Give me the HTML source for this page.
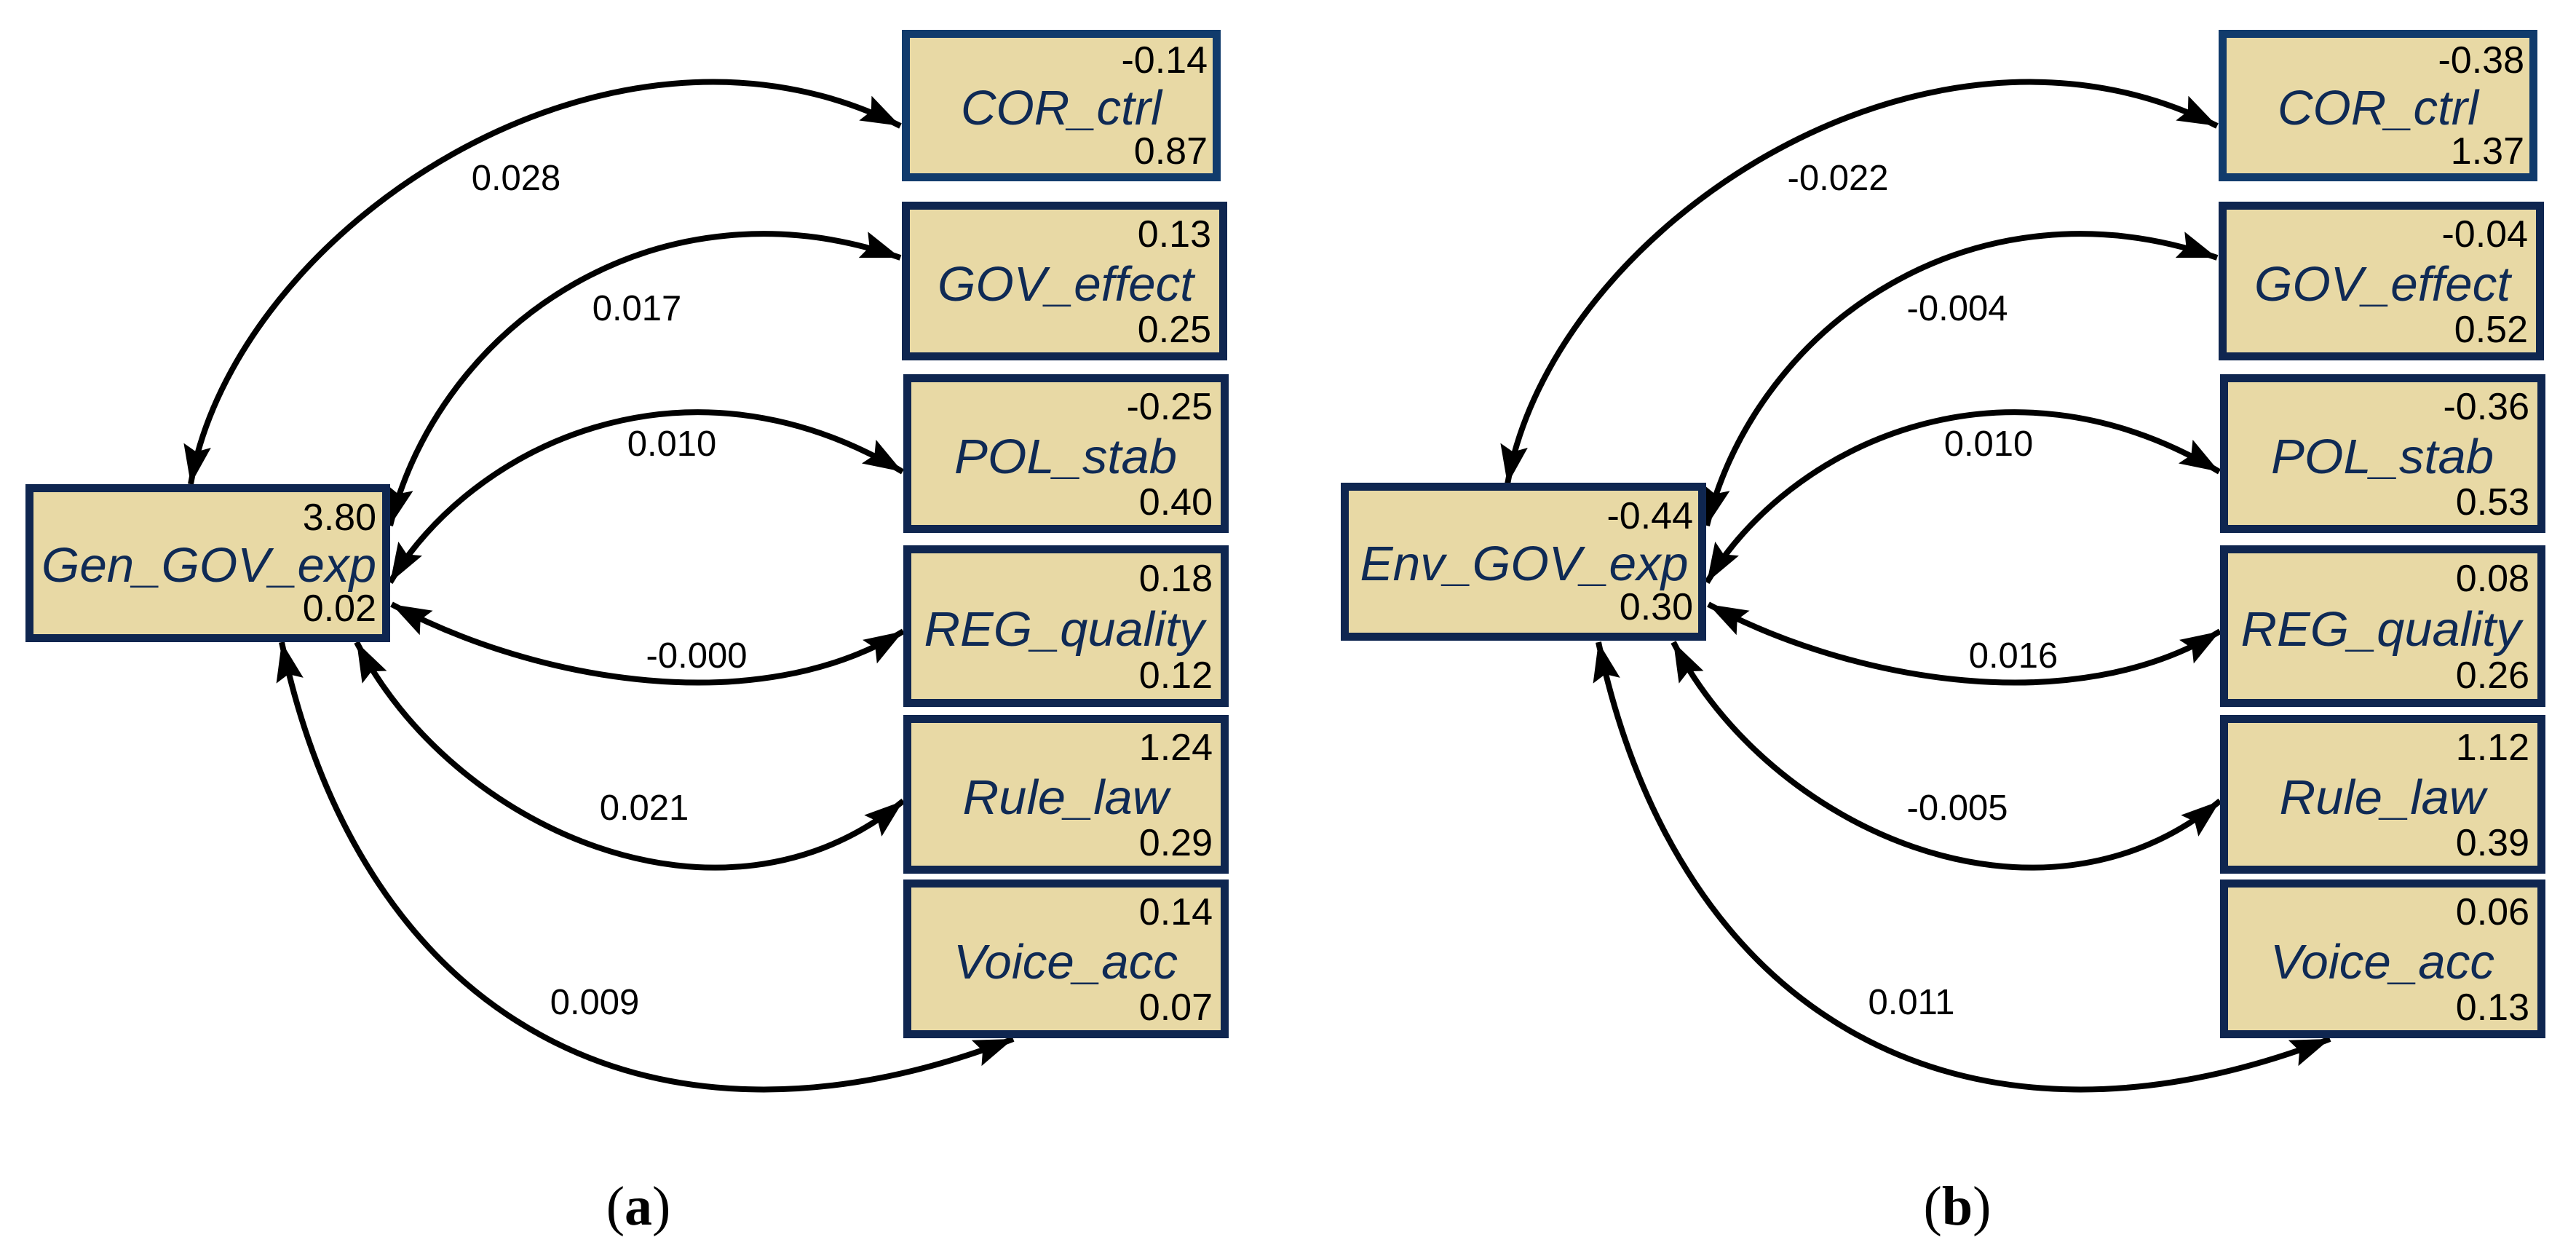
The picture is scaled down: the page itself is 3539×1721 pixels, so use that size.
<!DOCTYPE html>
<html><head><meta charset="utf-8"><style>
html,body{margin:0;padding:0;background:#fff;}
svg{display:block;}
.n{font-family:"Liberation Sans",sans-serif;font-size:52px;fill:#000;text-anchor:end;}
.nm{font-family:"Liberation Sans",sans-serif;font-size:67px;font-style:italic;fill:#0f2a55;text-anchor:middle;}
.lb{font-family:"Liberation Sans",sans-serif;font-size:49px;fill:#000;text-anchor:middle;}
.c{fill:none;stroke:#000;stroke-width:8;marker-start:url(#ah);marker-end:url(#ah);}
.bx{fill:#e8d9a5;stroke:#0f2650;stroke-width:11;}
.cap{font-family:"Liberation Serif",serif;font-size:76px;fill:#000;text-anchor:middle;}
</style></head><body>
<svg width="3539" height="1721" viewBox="0 0 3539 1721" xmlns="http://www.w3.org/2000/svg">
<defs>
<marker id="ah" markerUnits="userSpaceOnUse" markerWidth="56" markerHeight="40" refX="54" refY="19" orient="auto-start-reverse">
<path d="M0,0 L54,19 L0,38 L9,19 z" fill="#000"/>
</marker>
</defs>

<g id="pa">
<path class="c" d="M262,665 C322,315 837,-30 1237,173"/>
<path class="c" d="M536,722 C606,442 907,239 1237,354"/>
<path class="c" d="M536,800 C646,615 940,468 1240,648"/>
<path class="c" d="M538,830 C738,937 1041,989 1241,867"/>
<path class="c" d="M490,882 C620,1137 991,1305 1241,1100"/>
<path class="c" d="M387,882 C497,1402 892,1620 1392,1427"/>

<rect class="bx" x="40.5" y="670.5" width="490" height="206"/>
<text class="n" x="517" y="728">3.80</text>
<text class="nm" x="287" y="799" textLength="460" lengthAdjust="spacingAndGlyphs">Gen_GOV_exp</text>
<text class="n" x="517" y="853">0.02</text>

<rect class="bx" x="1244.5" y="46.5" width="427" height="197" style="stroke:#113b6c"/>
<text class="n" x="1659" y="100">-0.14</text>
<text class="nm" x="1458" y="171" textLength="276" lengthAdjust="spacingAndGlyphs">COR_ctrl</text>
<text class="n" x="1659" y="225">0.87</text>

<rect class="bx" x="1244.5" y="282.5" width="436" height="207"/>
<text class="n" x="1664" y="339">0.13</text>
<text class="nm" x="1464" y="413" textLength="352" lengthAdjust="spacingAndGlyphs">GOV_effect</text>
<text class="n" x="1664" y="470">0.25</text>

<rect class="bx" x="1246.5" y="519.5" width="436" height="207"/>
<text class="n" x="1666" y="576">-0.25</text>
<text class="nm" x="1464" y="650" textLength="306" lengthAdjust="spacingAndGlyphs">POL_stab</text>
<text class="n" x="1666" y="707">0.40</text>

<rect class="bx" x="1246.5" y="754.5" width="436" height="211"/>
<text class="n" x="1666" y="812">0.18</text>
<text class="nm" x="1462" y="887" textLength="385" lengthAdjust="spacingAndGlyphs">REG_quality</text>
<text class="n" x="1666" y="945">0.12</text>

<rect class="bx" x="1246.5" y="987.5" width="436" height="207"/>
<text class="n" x="1666" y="1044">1.24</text>
<text class="nm" x="1464" y="1118" textLength="283" lengthAdjust="spacingAndGlyphs">Rule_law</text>
<text class="n" x="1666" y="1175">0.29</text>

<rect class="bx" x="1246.5" y="1213.5" width="436" height="207"/>
<text class="n" x="1666" y="1270">0.14</text>
<text class="nm" x="1464" y="1344" textLength="308" lengthAdjust="spacingAndGlyphs">Voice_acc</text>
<text class="n" x="1666" y="1401">0.07</text>

<text class="lb" x="709" y="261">0.028</text>
<text class="lb" x="875" y="440">0.017</text>
<text class="lb" x="923" y="626">0.010</text>
<text class="lb" x="957" y="917">-0.000</text>
<text class="lb" x="885" y="1126">0.021</text>
<text class="lb" x="817" y="1393">0.009</text>
</g>

<text class="cap" x="877" y="1682">(<tspan font-weight="bold">a</tspan>)</text>

<g transform="translate(1809,0)">
<path class="c" d="M262,665 C322,315 837,-30 1237,173"/>
<path class="c" d="M536,722 C606,442 907,239 1237,354"/>
<path class="c" d="M536,800 C646,615 940,468 1240,648"/>
<path class="c" d="M538,830 C738,937 1041,989 1241,867"/>
<path class="c" d="M490,882 C620,1137 991,1305 1241,1100"/>
<path class="c" d="M387,882 C497,1402 892,1620 1392,1427"/>

<rect class="bx" x="38.5" y="668.5" width="491" height="206"/>
<text class="n" x="517" y="726">-0.44</text>
<text class="nm" x="285" y="797" textLength="451" lengthAdjust="spacingAndGlyphs">Env_GOV_exp</text>
<text class="n" x="517" y="851">0.30</text>

<rect class="bx" x="1244.5" y="46.5" width="427" height="197" style="stroke:#113b6c"/>
<text class="n" x="1659" y="100">-0.38</text>
<text class="nm" x="1458" y="171" textLength="276" lengthAdjust="spacingAndGlyphs">COR_ctrl</text>
<text class="n" x="1659" y="225">1.37</text>

<rect class="bx" x="1244.5" y="282.5" width="436" height="207"/>
<text class="n" x="1664" y="339">-0.04</text>
<text class="nm" x="1464" y="413" textLength="352" lengthAdjust="spacingAndGlyphs">GOV_effect</text>
<text class="n" x="1664" y="470">0.52</text>

<rect class="bx" x="1246.5" y="519.5" width="436" height="207"/>
<text class="n" x="1666" y="576">-0.36</text>
<text class="nm" x="1464" y="650" textLength="306" lengthAdjust="spacingAndGlyphs">POL_stab</text>
<text class="n" x="1666" y="707">0.53</text>

<rect class="bx" x="1246.5" y="754.5" width="436" height="211"/>
<text class="n" x="1666" y="812">0.08</text>
<text class="nm" x="1462" y="887" textLength="385" lengthAdjust="spacingAndGlyphs">REG_quality</text>
<text class="n" x="1666" y="945">0.26</text>

<rect class="bx" x="1246.5" y="987.5" width="436" height="207"/>
<text class="n" x="1666" y="1044">1.12</text>
<text class="nm" x="1464" y="1118" textLength="283" lengthAdjust="spacingAndGlyphs">Rule_law</text>
<text class="n" x="1666" y="1175">0.39</text>

<rect class="bx" x="1246.5" y="1213.5" width="436" height="207"/>
<text class="n" x="1666" y="1270">0.06</text>
<text class="nm" x="1464" y="1344" textLength="308" lengthAdjust="spacingAndGlyphs">Voice_acc</text>
<text class="n" x="1666" y="1401">0.13</text>

<text class="lb" x="716" y="261">-0.022</text>
<text class="lb" x="880" y="440">-0.004</text>
<text class="lb" x="923" y="626">0.010</text>
<text class="lb" x="957" y="917">0.016</text>
<text class="lb" x="880" y="1126">-0.005</text>
<text class="lb" x="817" y="1393">0.011</text>
</g>

<text class="cap" x="2689" y="1682">(<tspan font-weight="bold">b</tspan>)</text>
</svg>
</body></html>
